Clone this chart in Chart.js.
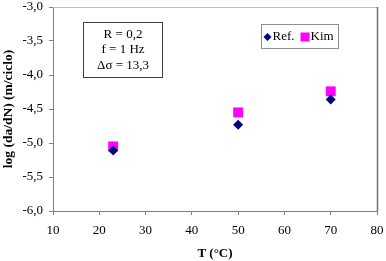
<!DOCTYPE html>
<html><head><meta charset="utf-8">
<script src="https://cdn.jsdelivr.net/npm/chart.js@4/dist/chart.umd.min.js"></script>
<style>html,body{margin:0;padding:0;background:#fff}#w{width:386px;height:261px}</style>
</head><body><div id="w"><canvas id="c" width="386" height="261"></canvas></div>
<script>
const temperatures = [23, 50, 70];
const refValues = [-5.11, -4.73, -4.36];
const kimValues = [-5.05, -4.55, -4.24];
const seriesNames = ['Ref.', 'Kim'];
const xTicks = [10, 20, 30, 40, 50, 60, 70, 80];
const yTicks = [-3.0, -3.5, -4.0, -4.5, -5.0, -5.5, -6.0];
const noteLines = ['R = 0,2', 'f = 1 Hz', '\u0394\u03c3 = 13,3'];
const xTitle = 'T (\u00b0C)';
const yTitle = 'log (da/dN) (m/ciclo)';

const FONT = '"Liberation Serif", "Times New Roman", serif';

const framePlugin = {
  id: 'frame',
  afterDraw(chart) {
    const ctx = chart.ctx, a = chart.chartArea;
    ctx.save();
    ctx.strokeStyle = '#c0c0c0'; ctx.lineWidth = 1;
    ctx.beginPath(); ctx.moveTo(a.left, a.top + 0.5); ctx.lineTo(a.right, a.top + 0.5); ctx.stroke();
    ctx.strokeStyle = '#707070'; ctx.lineWidth = 1.5;
    ctx.beginPath(); ctx.moveTo(a.right + 0.5, a.top); ctx.lineTo(a.right + 0.5, a.bottom); ctx.stroke();
    // note box
    ctx.lineWidth = 1; ctx.strokeStyle = '#404040';
    const bx = 83.5, by = 22.5, bw = 79, bh = 55;
    ctx.fillStyle = '#fff'; ctx.fillRect(bx, by, bw, bh);
    ctx.strokeRect(bx, by, bw, bh);
    ctx.fillStyle = '#000'; ctx.font = '13px ' + FONT;
    ctx.textAlign = 'center'; ctx.textBaseline = 'middle';
    noteLines.forEach((t, i) => ctx.fillText(t, bx + bw / 2, by + 12 + i * 15.5));
    // legend box
    const lx = 261.5, ly = 24.5, lw = 77, lh = 24;
    ctx.fillStyle = '#fff'; ctx.fillRect(lx, ly, lw, lh);
    ctx.strokeStyle = '#909090'; ctx.strokeRect(lx, ly, lw, lh);
    const cy = ly + lh / 2 + 0.5;
    ctx.fillStyle = '#000080';
    ctx.beginPath(); ctx.moveTo(lx + 6, cy - 4); ctx.lineTo(lx + 10, cy); ctx.lineTo(lx + 6, cy + 4); ctx.lineTo(lx + 2, cy); ctx.closePath(); ctx.fill();
    ctx.fillStyle = '#000'; ctx.textAlign = 'left'; ctx.font = '13px ' + FONT;
    ctx.fillText(seriesNames[0], lx + 11, cy);
    ctx.fillStyle = '#ff00ff';
    ctx.fillRect(lx + 39, cy - 4.5, 9, 9);
    ctx.fillStyle = '#000';
    ctx.fillText(seriesNames[1], lx + 49, cy);
    ctx.restore();
  }
};

new Chart(document.getElementById('c'), {
  type: 'scatter',
  data: {
    datasets: [
      { label: seriesNames[0], data: temperatures.map((t, i) => ({x: t, y: refValues[i]})),
        pointStyle: 'rectRot', radius: 5, backgroundColor: '#000080', borderColor: '#000080', borderWidth: 0 },
      { label: seriesNames[1], data: temperatures.map((t, i) => ({x: t, y: kimValues[i]})),
        pointStyle: 'rect', radius: 7, backgroundColor: '#ff00ff', borderColor: '#ff00ff', borderWidth: 0 }
    ]
  },
  options: {
    responsive: false, animation: false,
    layout: { padding: { top: 6, right: 9, left: 0, bottom: 0 } },
    plugins: { legend: { display: false }, tooltip: { enabled: false } },
    scales: {
      x: {
        type: 'linear', min: 10, max: 80,
        afterBuildTicks: s => { s.ticks = xTicks.map(v => ({value: v})); },
        afterFit: s => { s.height = 50; s.paddingLeft = 0; s.paddingRight = 0; },
        grid: { drawOnChartArea: false, tickLength: 4, color: '#808080' },
        border: { color: '#808080', width: 1 },
        ticks: { color: '#000', font: { family: FONT, size: 13 }, padding: 8, maxRotation: 0, callback: v => String(v) },
        title: { display: true, text: xTitle, color: '#000', font: { family: FONT, size: 13, weight: 'bold' }, padding: { top: 2, bottom: 0 } }
      },
      y: {
        type: 'linear', min: -6, max: -3,
        afterBuildTicks: s => { s.ticks = yTicks.map(v => ({value: v})); },
        afterFit: s => { s.width = 53; s.paddingTop = 0; s.paddingBottom = 0; },
        grid: { drawOnChartArea: false, tickLength: 4, color: '#808080' },
        border: { color: '#808080', width: 1 },
        ticks: { color: '#000', font: { family: FONT, size: 13 }, padding: 6, callback: v => v.toFixed(1).replace('.', ',') },
        title: { display: true, text: yTitle, color: '#000', font: { family: FONT, size: 13.5, weight: 'bold' }, padding: { top: 0, bottom: 1 } }
      }
    }
  },
  plugins: [framePlugin]
});
</script></body></html>
